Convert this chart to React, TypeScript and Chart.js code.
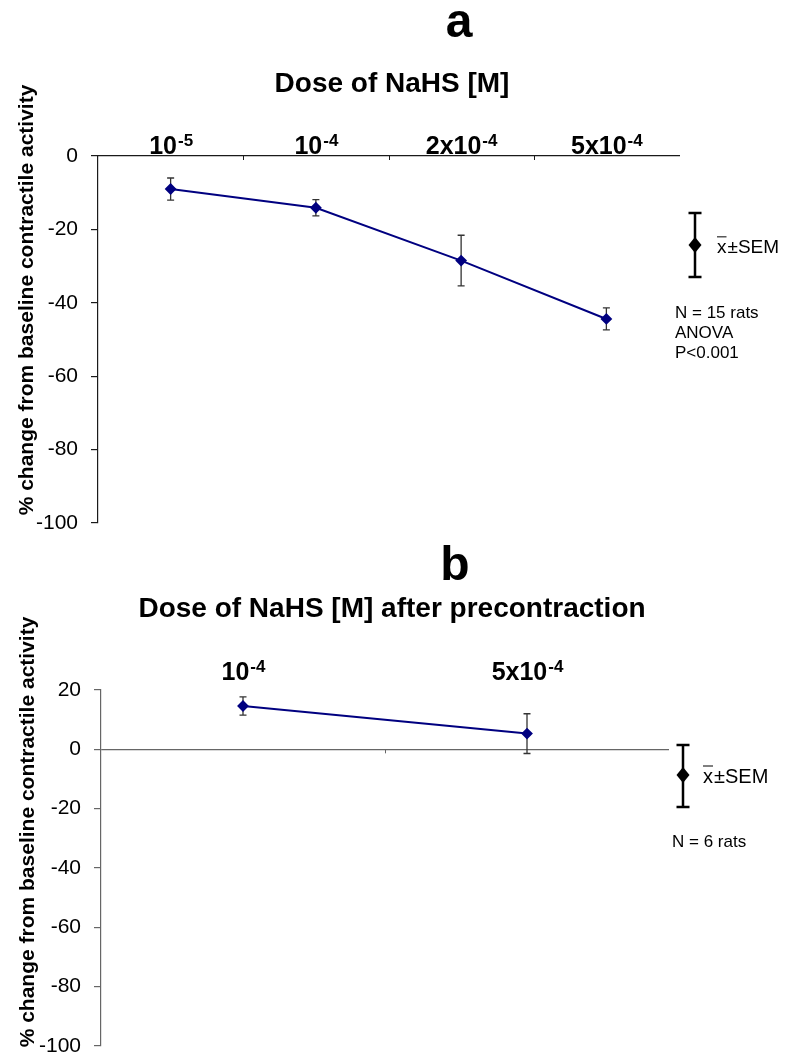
import React, { useEffect, useRef } from 'react';
import { Chart, registerables } from 'chart.js';

Chart.register(...registerables);

const FONT = "'Liberation Sans', Arial, Helvetica, sans-serif";

// ---- Panel a data ----
const dosesA = ['10', '10', '2x10', '5x10'];
const exponentsA = ['-5', '-4', '-4', '-4'];
const meanA = [-9.0, -14.1, -28.5, -44.4];
const semA = [3.0, 2.2, 6.9, 3.0];
const yRangeA = [-100, 0];
const notesA = ['N = 15 rats', 'ANOVA', 'P<0.001'];

// ---- Panel b data ----
const dosesB = ['10', '5x10'];
const exponentsB = ['-4', '-4'];
const meanB = [14.6, 5.3];
const semB = [3.1, 6.7];
const yRangeB = [-100, 20];
const notesB = ['N = 6 rats'];

const yStep = 20;
const yAxisLabel = '% change from baseline contractile activity';

type Panel = {
  letter: string;
  title: string;
  doses: string[];
  exps: string[];
  mean: number[];
  sem: number[];
  yRange: number[];
  notes: string[];
  height: number;
  area: { left: number; top: number; right: number; bottom: number };
  letterPos: [number, number];
  titlePos: [number, number];
  labelBaselineOffset: number;
  yLabelPos: [number, number];
  axisOnZero: boolean;
  axisColor: string;
  legend: { dx: number; cy: number; capTop: number; capBot: number; textX: number; textY: number; textSize: number; notesX: number; notesY: number; notesSize: number };
};

const panels: Panel[] = [
  {
    letter: 'a',
    title: 'Dose of NaHS [M]',
    doses: dosesA,
    exps: exponentsA,
    mean: meanA,
    sem: semA,
    yRange: yRangeA,
    notes: notesA,
    height: 540,
    area: { left: 98, top: 156, right: 679, bottom: 523 },
    letterPos: [459, 37],
    titlePos: [392, 92],
    labelBaselineOffset: 2,
    yLabelPos: [33, 300],
    axisOnZero: false,
    axisColor: '#1a1a1a',
    legend: { dx: 16, cy: 245, capTop: 213, capBot: 277, textX: 717, textY: 253, textSize: 19, notesX: 675, notesY: 318, notesSize: 17 },
  },
  {
    letter: 'b',
    title: 'Dose of NaHS [M] after precontraction',
    doses: dosesB,
    exps: exponentsB,
    mean: meanB,
    sem: semB,
    yRange: yRangeB,
    notes: notesB,
    height: 515,
    area: { left: 101, top: 150, right: 669, bottom: 506 },
    letterPos: [455, 40],
    titlePos: [392, 77],
    labelBaselineOffset: 10,
    yLabelPos: [34, 292],
    axisOnZero: true,
    axisColor: '#666666',
    legend: { dx: 14, cy: 235, capTop: 205, capBot: 267, textX: 703, textY: 243, textSize: 20, notesX: 672, notesY: 307, notesSize: 17 },
  },
];

function makeConfig(p: Panel, width: number): any {
  const errorBars = {
    id: 'errorBars' + p.letter,
    beforeDatasetsDraw(chart: any) {
      const { ctx } = chart;
      const y = chart.scales.y;
      const meta = chart.getDatasetMeta(0);
      ctx.save();
      ctx.strokeStyle = '#333333';
      ctx.lineWidth = 1.3;
      meta.data.forEach((pt: any, i: number) => {
        const px = pt.x;
        const t = y.getPixelForValue(p.mean[i] + p.sem[i]);
        const b = y.getPixelForValue(p.mean[i] - p.sem[i]);
        ctx.beginPath();
        ctx.moveTo(px, t);
        ctx.lineTo(px, b);
        ctx.moveTo(px - 3.5, t);
        ctx.lineTo(px + 3.5, t);
        ctx.moveTo(px - 3.5, b);
        ctx.lineTo(px + 3.5, b);
        ctx.stroke();
      });
      ctx.restore();
    },
  };

  const texts = {
    id: 'texts' + p.letter,
    afterDraw(chart: any) {
      const { ctx, chartArea } = chart;
      const x = chart.scales.x;
      const y = chart.scales.y;
      ctx.save();
      ctx.fillStyle = '#000';
      // panel letter
      ctx.font = `bold 48px ${FONT}`;
      ctx.textAlign = 'center';
      ctx.textBaseline = 'alphabetic';
      ctx.fillText(p.letter, p.letterPos[0], p.letterPos[1]);
      // title
      ctx.font = `bold 28px ${FONT}`;
      ctx.fillText(p.title, p.titlePos[0], p.titlePos[1]);
      // category labels with superscripts
      const baseline = chartArea.top - p.labelBaselineOffset;
      ctx.textAlign = 'left';
      p.doses.forEach((d, i) => {
        const cx = x.getPixelForValue(i);
        ctx.font = `bold 25px ${FONT}`;
        const wb = ctx.measureText(d).width;
        ctx.font = `bold 17px ${FONT}`;
        const we = ctx.measureText(p.exps[i]).width;
        const start = cx - (wb + we) / 2;
        ctx.font = `bold 25px ${FONT}`;
        ctx.fillText(d, start, baseline);
        ctx.font = `bold 17px ${FONT}`;
        ctx.fillText(p.exps[i], start + wb + 1, baseline - 8);
      });
      // small boundary ticks on the category axis
      const lineY = p.axisOnZero ? y.getPixelForValue(0) : chartArea.top;
      ctx.strokeStyle = p.axisColor;
      ctx.lineWidth = 1;
      for (let i = 0; i < p.doses.length - 1; i++) {
        const bx = Math.round((x.getPixelForValue(i) + x.getPixelForValue(i + 1)) / 2) + 0.5;
        ctx.beginPath();
        ctx.moveTo(bx, lineY);
        ctx.lineTo(bx, lineY + 4);
        ctx.stroke();
      }
      // rotated y-axis label
      ctx.save();
      ctx.translate(p.yLabelPos[0], p.yLabelPos[1]);
      ctx.rotate(-Math.PI / 2);
      ctx.font = `bold 21px ${FONT}`;
      ctx.textAlign = 'center';
      ctx.fillText(yAxisLabel, 0, 0);
      ctx.restore();
      // mean ± SEM key
      const L = p.legend;
      const lx = chartArea.right + L.dx;
      ctx.strokeStyle = '#000';
      ctx.lineWidth = 2.5;
      ctx.beginPath();
      ctx.moveTo(lx, L.capTop);
      ctx.lineTo(lx, L.capBot);
      ctx.moveTo(lx - 6.5, L.capTop);
      ctx.lineTo(lx + 6.5, L.capTop);
      ctx.moveTo(lx - 6.5, L.capBot);
      ctx.lineTo(lx + 6.5, L.capBot);
      ctx.stroke();
      ctx.beginPath();
      ctx.moveTo(lx, L.cy - 8);
      ctx.lineTo(lx + 6.5, L.cy);
      ctx.lineTo(lx, L.cy + 8);
      ctx.lineTo(lx - 6.5, L.cy);
      ctx.closePath();
      ctx.fill();
      ctx.font = `${L.textSize}px ${FONT}`;
      ctx.textAlign = 'left';
      ctx.fillText('x', L.textX, L.textY);
      const wx = ctx.measureText('x').width;
      ctx.fillText('±SEM', L.textX + wx + 1, L.textY);
      ctx.lineWidth = 1;
      ctx.beginPath();
      ctx.moveTo(L.textX, L.textY - L.textSize * 0.85);
      ctx.lineTo(L.textX + wx, L.textY - L.textSize * 0.85);
      ctx.stroke();
      ctx.font = `${L.notesSize}px ${FONT}`;
      p.notes.forEach((n, i) => ctx.fillText(n, L.notesX, L.notesY + i * 20));
      ctx.restore();
    },
  };

  return {
    type: 'line',
    data: {
      labels: p.doses.map((d, i) => d + p.exps[i]),
      datasets: [
        {
          data: p.mean,
          borderColor: '#000080',
          backgroundColor: '#000080',
          borderWidth: 2,
          pointStyle: 'rectRot',
          pointRadius: 4.5,
          pointBackgroundColor: '#000080',
          pointBorderColor: '#000080',
          tension: 0,
          fill: false,
          clip: false,
        },
      ],
    },
    options: {
      responsive: false,
      animation: false,
      devicePixelRatio: 1,
      layout: {
        padding: { left: 0, top: 0, right: width - p.area.right, bottom: p.height - p.area.bottom },
      },
      plugins: { legend: { display: false }, tooltip: { enabled: false }, title: { display: false } },
      scales: {
        x: {
          type: 'category',
          position: 'top',
          offset: true,
          ticks: { display: false },
          grid: { display: false },
          border: { display: !p.axisOnZero, color: p.axisColor, width: 1.2 },
          afterFit: (s: any) => {
            s.height = p.area.top;
            s.paddingLeft = 0;
            s.paddingRight = 0;
          },
        },
        y: {
          min: p.yRange[0],
          max: p.yRange[1],
          ticks: { stepSize: yStep, padding: 13, color: '#000', font: { family: FONT, size: 21 } },
          grid: {
            drawOnChartArea: p.axisOnZero,
            color: (c: any) => (p.axisOnZero && c.tick && c.tick.value === 0 ? p.axisColor : 'rgba(0,0,0,0)'),
            tickColor: p.axisColor,
            tickLength: 7,
            lineWidth: 1.2,
          },
          border: { display: true, color: p.axisColor, width: 1.2 },
          afterFit: (s: any) => {
            s.width = p.area.left;
            s.paddingTop = 0;
            s.paddingBottom = 0;
          },
        },
      },
    },
    plugins: [errorBars, texts],
  };
}

function PanelChart({ p, top }: { p: Panel; top: number }) {
  const ref = useRef<HTMLCanvasElement | null>(null);
  useEffect(() => {
    if (!ref.current) return;
    const chart = new Chart(ref.current, makeConfig(p, 788));
    return () => chart.destroy();
  }, [p]);
  return (
    <canvas
      ref={ref}
      width={788}
      height={p.height}
      style={{ position: 'absolute', left: 0, top, width: 788, height: p.height, display: 'block' }}
    />
  );
}

export default function App() {
  return (
    <div style={{ position: 'absolute', left: 0, top: 0, width: 788, height: 1055, background: '#fff', overflow: 'hidden' }}>
      <PanelChart p={panels[0]} top={0} />
      <PanelChart p={panels[1]} top={540} />
    </div>
  );
}
